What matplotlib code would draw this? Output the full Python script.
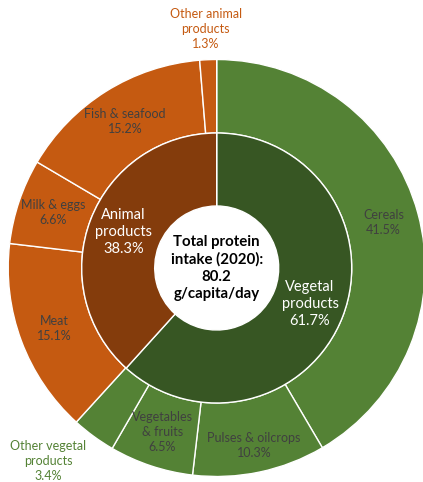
import matplotlib.pyplot as plt
import numpy as np

plt.rcParams['font.family'] = ['Lato', 'DejaVu Sans']

# outer ring, clockwise from 12 o'clock
outer_labels = ['Cereals', 'Pulses & oilcrops', 'Vegetables\n& fruits', 'Other vegetal\nproducts',
                'Meat', 'Milk & eggs', 'Fish & seafood', 'Other animal\nproducts']
outer_vals = [41.5, 10.3, 6.5, 3.4, 15.1, 6.6, 15.2, 1.3]
outer_cols = ['#548235'] * 4 + ['#C55A11'] * 4

inner_labels = ['Vegetal\nproducts', 'Animal\nproducts']
inner_vals = [61.7, 38.3]
inner_cols = ['#375623', '#843C0C']

center_text = 'Total protein\nintake (2020):\n80.2\ng/capita/day'

R_OUT = 208.5
R_MID = 135
R_HOLE = 62

fig = plt.figure(figsize=(4.23, 4.82), dpi=100)
ax = fig.add_axes([0, 0, 1, 1])

ax.pie(outer_vals, radius=R_OUT, colors=outer_cols, startangle=90, counterclock=False,
       wedgeprops=dict(width=R_OUT - R_MID, edgecolor='white', linewidth=1.0))
ax.pie(inner_vals, radius=R_MID, colors=inner_cols, startangle=90, counterclock=False,
       wedgeprops=dict(width=R_MID - R_HOLE, edgecolor='white', linewidth=1.0))

# outer labels
tot = sum(outer_vals)
cum = 0
for lab, v in zip(outer_labels, outer_vals):
    mid = 90 - (cum + v / 2) / tot * 360
    cum += v
    r = 173
    col = '#404040'
    if lab.startswith('Other animal'):
        mid, r, col = 92.6, 239, '#C55A11'
    elif lab.startswith('Other vegetal'):
        mid, r, col = -131.2, 256, '#548235'
    elif lab.startswith('Pulses'):
        r = 181
    x, y = r * np.cos(np.radians(mid)), r * np.sin(np.radians(mid))
    ax.text(x, y, f'{lab}\n{v:.1f}%', ha='center', va='center', fontsize=9,
            color=col, linespacing=1.3)

# inner labels
cum = 0
for lab, v in zip(inner_labels, inner_vals):
    mid = 90 - (cum + v / 2) / 100 * 360
    cum += v
    r = 100
    x, y = r * np.cos(np.radians(mid)), r * np.sin(np.radians(mid))
    ax.text(x, y, f'{lab}\n{v:.1f}%', ha='center', va='center', fontsize=10.5,
            color='white', linespacing=1.3)

ax.text(0, 0, center_text, ha='center', va='center', fontsize=10.8, fontweight='bold',
        color='black', linespacing=1.27)

ax.set_xlim(-216.7, 423 - 216.7)
ax.set_ylim(-(482 - 268), 268)
ax.set_aspect('equal')
ax.axis('off')

fig.savefig('out.png', dpi=100)
